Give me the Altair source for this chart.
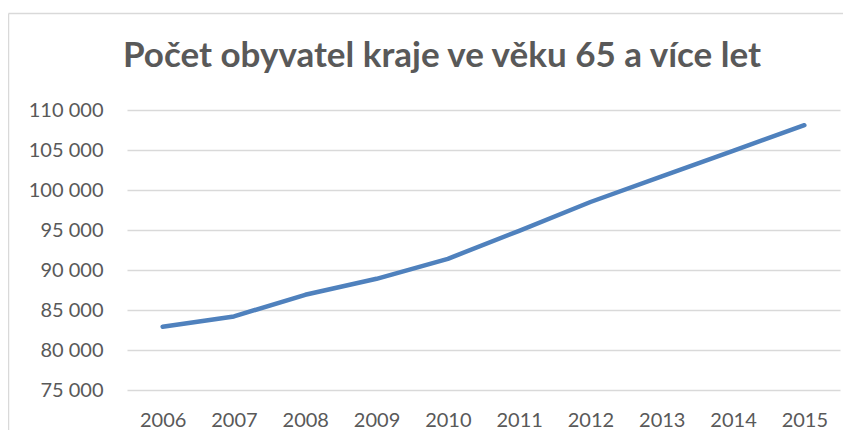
import altair as alt
import pandas as pd

years = ["2006", "2007", "2008", "2009", "2010", "2011", "2012", "2013", "2014", "2015"]
population = [82900, 84200, 86900, 88900, 91400, 94900, 98500, 101700, 104900, 108100]
y_ticks = [75000, 80000, 85000, 90000, 95000, 100000, 105000, 110000]
title_text = "Počet obyvatel kraje ve věku 65 a více let"

df = pd.DataFrame({"rok": years, "pocet": population})

FONT = "Lato"
GRAY = "#595959"
one = pd.DataFrame({"a": [0]})

border_top = alt.Chart(one).mark_rule(stroke="#D9D9D9", strokeWidth=1.5, clip=False).encode(
    x=alt.value(-118.5), x2=alt.value(716), y=alt.value(-96.5)
)
border_left = alt.Chart(one).mark_rule(stroke="#D9D9D9", strokeWidth=1.5, clip=False).encode(
    x=alt.value(-118.5), y=alt.value(-96.5), y2=alt.value(340)
)
title = alt.Chart(one).mark_text(
    text=title_text, font=FONT, fontSize=35, fontWeight="bold", color=GRAY,
    align="center", baseline="alphabetic", clip=False
).encode(x=alt.value(315), y=alt.value(-43))

line = alt.Chart(df).mark_line(
    color="#4F81BD", strokeWidth=4.5, strokeCap="round", strokeJoin="round"
).encode(
    x=alt.X("rok:O", sort=years, axis=alt.Axis(
        labelAngle=0, title=None, ticks=False, domain=False, grid=False,
        labelPadding=20, labelFontSize=20, labelColor=GRAY, labelFont=FONT)),
    y=alt.Y("pocet:Q", scale=alt.Scale(domain=[75000, 110000], nice=False, zero=False),
            axis=alt.Axis(values=y_ticks, title=None, ticks=False, domain=False,
                          labelPadding=24, labelFontSize=20, labelColor=GRAY, labelFont=FONT,
                          labelExpr="replace(format(datum.value, ','), ',', ' ')",
                          gridColor="#D9D9D9", gridWidth=1.5)),
)

chart = alt.layer(border_top, border_left, title, line).properties(
    width=713, height=280,
    padding={"left": 119, "top": 102, "right": 3, "bottom": 40},
    autosize=alt.AutoSizeParams(type="none"),
).configure_view(stroke=None)

chart.save("out.html", embed_options={"renderer": "svg", "actions": False})
